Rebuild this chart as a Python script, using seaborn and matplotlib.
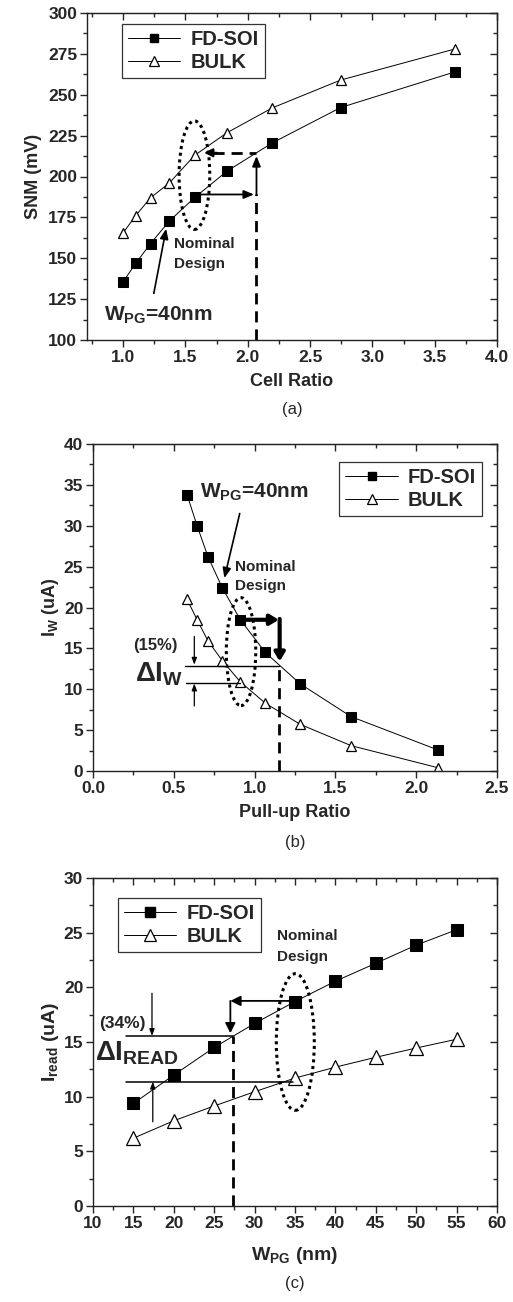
import numpy as np
import pandas as pd
import matplotlib
matplotlib.use("Agg")
import matplotlib.pyplot as plt
import seaborn as sns
from matplotlib.patches import Ellipse
from matplotlib.ticker import MultipleLocator
from matplotlib.lines import Line2D

# ---------------- data ----------------
cell_ratio = [1.00, 1.10, 1.22, 1.37, 1.575, 1.834, 2.198, 2.746, 3.663]
snm_fdsoi = [135.6, 146.8, 159.0, 172.7, 187.2, 203.3, 220.6, 242.2, 264.0]
snm_bulk = [165.5, 176.0, 187.0, 196.0, 213.0, 226.8, 242.0, 259.0, 278.0]

pullup_ratio = [0.582, 0.644, 0.712, 0.800, 0.912, 1.066, 1.283, 1.597, 2.135]
iw_fdsoi = [33.8, 30.0, 26.2, 22.4, 18.5, 14.5, 10.65, 6.65, 2.57]
iw_bulk = [21.0, 18.5, 15.9, 13.5, 10.9, 8.3, 5.7, 3.1, 0.4]

wpg = [15, 20, 25, 30, 35, 40, 45, 50, 55]
iread_fdsoi = [9.38, 11.98, 14.5, 16.7, 18.7, 20.56, 22.2, 23.86, 25.27]
iread_bulk = [6.2, 7.8, 9.15, 10.45, 11.7, 12.7, 13.6, 14.45, 15.25]

series_names = ["FD-SOI", "BULK"]
panel_tags = ["(a)", "(b)", "(c)"]

# ---------------- style ----------------
sns.set_style("ticks")
plt.rcParams["font.family"] = ["Liberation Sans", "DejaVu Sans"]
plt.rcParams["font.weight"] = "bold"
plt.rcParams["axes.labelweight"] = "bold"
plt.rcParams["mathtext.fontset"] = "custom"
plt.rcParams["mathtext.rm"] = "Liberation Sans:bold"
plt.rcParams["mathtext.it"] = "Liberation Sans:bold"
plt.rcParams["mathtext.bf"] = "Liberation Sans:bold"
plt.rcParams["mathtext.default"] = "rm"

fig = plt.figure(figsize=(5.13, 13.02), dpi=100)
axA = fig.add_axes([87/513, 1-340/1302, 410/513, 327/1302])
axB = fig.add_axes([93/513, 1-771/1302, 404/513, 327/1302])
axC = fig.add_axes([93/513, 1-1206/1302, 404/513, 328/1302])

TICKFS = 12.5
LABELFS = 13
ANNFS = 11


def style_axes(ax, xlim, ylim, xmaj, xmin, ymaj, ymin):
    ax.set_xlim(*xlim)
    ax.set_ylim(*ylim)
    ax.xaxis.set_major_locator(MultipleLocator(xmaj))
    ax.xaxis.set_minor_locator(MultipleLocator(xmin))
    ax.yaxis.set_major_locator(MultipleLocator(ymaj))
    ax.yaxis.set_minor_locator(MultipleLocator(ymin))
    ax.tick_params(which="major", direction="out", length=5, width=1,
                   labelsize=TICKFS, pad=2)
    ax.tick_params(which="minor", direction="out", length=3, width=1)
    for s in ax.spines.values():
        s.set_linewidth(1.0)
        s.set_color("#222222")
    top = ax.secondary_xaxis("top")
    top.xaxis.set_major_locator(MultipleLocator(xmaj))
    top.xaxis.set_minor_locator(MultipleLocator(xmin))
    top.tick_params(which="major", direction="in", length=5, width=1, labeltop=False)
    top.tick_params(which="minor", direction="in", length=3, width=1)
    right = ax.secondary_yaxis("right")
    right.yaxis.set_major_locator(MultipleLocator(ymaj))
    right.yaxis.set_minor_locator(MultipleLocator(ymin))
    right.tick_params(which="major", direction="in", length=5, width=1, labelright=False)
    right.tick_params(which="minor", direction="in", length=3, width=1)
    for lab in ax.get_xticklabels() + ax.get_yticklabels():
        lab.set_fontweight("bold")


def draw_series(ax, x, y1, y2, ms_sq, ms_tri):
    sns.lineplot(x=x, y=y1, ax=ax, sort=False, estimator=None, color="black",
                 linewidth=0.7, marker="s", markersize=ms_sq,
                 markerfacecolor="black", markeredgecolor="black",
                 label=series_names[0])
    sns.lineplot(x=x, y=y2, ax=ax, sort=False, estimator=None, color="black",
                 linewidth=0.7, marker="^", markersize=ms_tri,
                 markerfacecolor="white", markeredgecolor="black",
                 markeredgewidth=0.9, label=series_names[1])


def legend(ax, loc, anchor, ms_sq, ms_tri):
    h = [Line2D([], [], color="black", lw=0.7, marker="s", ms=ms_sq,
                mfc="black", mec="black"),
         Line2D([], [], color="black", lw=0.7, marker="^", ms=ms_tri,
                mfc="white", mec="black", mew=0.9)]
    lg = ax.legend(h, series_names, loc=loc, bbox_to_anchor=anchor,
                   frameon=True, fancybox=False, framealpha=1,
                   edgecolor="#333333", prop={"size": 14.5, "weight": "bold"},
                   handlelength=2.6, handletextpad=0.5, borderpad=0.3,
                   labelspacing=0.2, borderaxespad=0)
    lg.get_frame().set_linewidth(0.9)


def arrow(ax, x0, y0, x1, y1, lw=1.2, hw=0.25, hl=0.5, ls="-"):
    ax.annotate("", xy=(x1, y1), xytext=(x0, y0),
                arrowprops=dict(arrowstyle=f"-|>,head_width={hw},head_length={hl}",
                                color="black", lw=lw, linestyle=ls,
                                shrinkA=0, shrinkB=0))


# ---------------- panel (a) ----------------
draw_series(axA, cell_ratio, snm_fdsoi, snm_bulk, 6.5, 7.5)
style_axes(axA, (0.71, 4.0), (100, 300), 0.5, 0.25, 25, 12.5)
axA.set_xlabel("Cell Ratio", fontsize=LABELFS, labelpad=6)
axA.set_ylabel("SNM (mV)", fontsize=LABELFS, labelpad=4)
legend(axA, "upper left", (0.085, 0.966), 5.5, 6.5)
axA.add_patch(Ellipse((1.572, 200.8), 0.246, 66.4, fill=False, ls=(0, (1, 1.2)),
                      lw=2.2, ec="black"))
arrow(axA, 1.62, 189, 2.05, 189, lw=1.3, hw=0.25, hl=0.6)
axA.plot([2.07, 2.07], [100, 189], ls=(0, (4, 2.5)), lw=2, color="black")
arrow(axA, 2.07, 189, 2.07, 212.5, lw=1.3, hw=0.25, hl=0.6)
axA.plot([1.72, 2.07], [214.5, 214.5], ls=(0, (4, 2.5)), lw=2, color="black")
arrow(axA, 1.75, 214.5, 1.65, 214.5, lw=1.5, hw=0.25, hl=0.5)
axA.text(1.41, 159, "Nominal", fontsize=ANNFS, fontweight="bold", va="center", ha="left")
axA.text(1.41, 146.5, "Design", fontsize=ANNFS, fontweight="bold", va="center", ha="left")
arrow(axA, 1.246, 128.5, 1.345, 168, lw=1.2, hw=0.25, hl=0.6)
axA.text(0.85, 115, "W$_{PG}$=40nm", fontsize=15, fontweight="bold", va="center", ha="left")
axA.text(0.5, -0.214, panel_tags[0], transform=axA.transAxes, fontsize=12,
         fontweight="normal", ha="center", va="center")

# ---------------- panel (b) ----------------
draw_series(axB, pullup_ratio, iw_fdsoi, iw_bulk, 6.5, 7)
style_axes(axB, (0.0, 2.5), (0, 40), 0.5, 0.25, 5, 2.5)
axB.set_xlabel("Pull-up Ratio", fontsize=LABELFS, labelpad=6)
axB.set_ylabel("I$_W$ (uA)", fontsize=LABELFS, labelpad=2)
legend(axB, "upper right", (0.963, 0.945), 5.5, 6.5)
axB.text(0.664, 34.1, "W$_{PG}$=40nm", fontsize=15, fontweight="bold", va="center", ha="left")
arrow(axB, 0.908, 31.5, 0.813, 23.6, lw=1.2, hw=0.25, hl=0.6)
axB.text(0.881, 25.0, "Nominal", fontsize=ANNFS, fontweight="bold", va="center", ha="left")
axB.text(0.881, 22.6, "Design", fontsize=ANNFS, fontweight="bold", va="center", ha="left")
axB.add_patch(Ellipse((0.916, 14.6), 0.182, 13.2, fill=False, ls=(0, (1, 1.2)),
                      lw=2.2, ec="black"))
arrow(axB, 0.93, 18.5, 1.15, 18.5, lw=3, hw=0.3, hl=0.5)
arrow(axB, 1.155, 18.6, 1.155, 13.4, lw=3, hw=0.3, hl=0.5)
axB.plot([1.149, 1.149], [0, 12.9], ls=(0, (4, 2.5)), lw=2, color="black")
axB.plot([0.567, 1.149], [12.86, 12.86], lw=1.0, color="black")
axB.plot([0.575, 0.912], [10.8, 10.8], lw=1.0, color="black")
arrow(axB, 0.627, 16.45, 0.627, 13.0, lw=0.9, hw=0.15, hl=0.4)
arrow(axB, 0.627, 7.96, 0.627, 10.7, lw=0.9, hw=0.15, hl=0.4)
axB.text(0.386, 15.4, "(15%)", fontsize=12, fontweight="bold", va="center", ha="center")
axB.text(0.26, 11.8, "ΔI$_W$", fontsize=20, fontweight="bold", va="center", ha="left")
axB.text(0.5, -0.22, panel_tags[1], transform=axB.transAxes, fontsize=12,
         fontweight="normal", ha="center", va="center")

# ---------------- panel (c) ----------------
draw_series(axC, wpg, iread_fdsoi, iread_bulk, 8, 9.5)
style_axes(axC, (10, 60), (0, 30), 5, 2.5, 5, 2.5)
axC.set_xlabel("W$_{PG}$ (nm)", fontsize=LABELFS + 1, labelpad=10)
axC.set_ylabel("I$_{read}$ (uA)", fontsize=LABELFS + 1, labelpad=2)
legend(axC, "upper left", (0.062, 0.939), 7, 8.5)
axC.text(32.77, 24.7, "Nominal", fontsize=ANNFS, fontweight="bold", va="center", ha="left")
axC.text(32.77, 22.8, "Design", fontsize=ANNFS, fontweight="bold", va="center", ha="left")
axC.add_patch(Ellipse((35.04, 15.0), 4.7, 12.5, fill=False, ls=(0, (1, 1.2)),
                      lw=2.2, ec="black"))
arrow(axC, 34.3, 18.76, 27.0, 18.76, lw=1.3, hw=0.3, hl=0.6)
arrow(axC, 27.0, 18.76, 27.0, 15.8, lw=1.3, hw=0.3, hl=0.6)
axC.plot([27.29, 27.29], [0, 15.55], ls=(0, (4, 2.5)), lw=2, color="black")
axC.plot([14.1, 27.29], [15.55, 15.55], lw=1.1, color="black")
axC.plot([14.1, 34.8], [11.37, 11.37], lw=1.1, color="black")
arrow(axC, 17.3, 19.46, 17.3, 15.55, lw=0.9, hw=0.15, hl=0.4)
arrow(axC, 17.4, 7.7, 17.4, 11.37, lw=0.9, hw=0.15, hl=0.4)
axC.text(13.6, 16.7, "(34%)", fontsize=12.5, fontweight="bold", va="center", ha="center")
axC.text(10.3, 14.0, "ΔI$_{READ}$", fontsize=20, fontweight="bold", va="center", ha="left")
axC.text(0.5, -0.235, panel_tags[2], transform=axC.transAxes, fontsize=12,
         fontweight="normal", ha="center", va="center")

fig.savefig("out.png", dpi=100)
